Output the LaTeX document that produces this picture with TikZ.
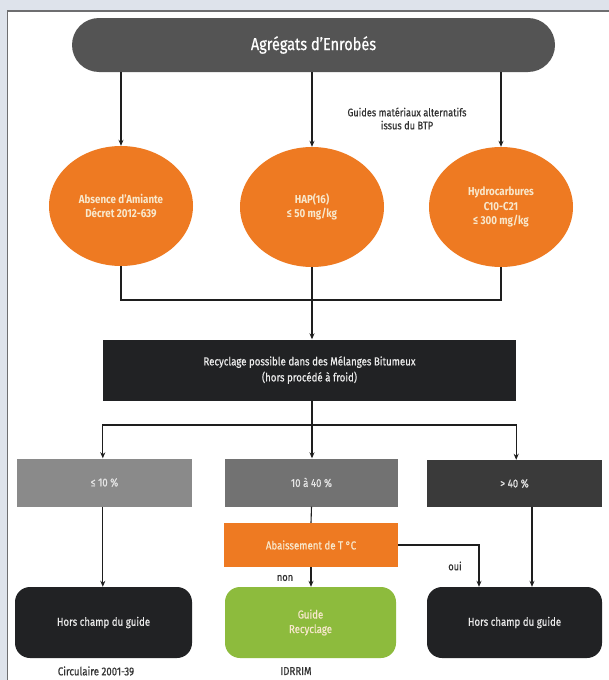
\documentclass[tikz,border=0pt]{standalone}
\usepackage{fontspec}
\setmainfont[FakeStretch=0.85]{Fira Sans}
\newfontfamily\medf[FakeStretch=0.84,FakeBold=0.6]{Fira Sans}
\usetikzlibrary{shapes.geometric,arrows.meta}
\definecolor{bgc}{HTML}{DEE3EB}
\definecolor{frame}{HTML}{6E6E70}
\definecolor{pillc}{HTML}{545454}
\definecolor{orng}{HTML}{EE7A22}
\definecolor{blk}{HTML}{212224}
\definecolor{g1}{HTML}{8A8A8A}
\definecolor{g2}{HTML}{727272}
\definecolor{g3}{HTML}{3A3A3A}
\definecolor{grn}{HTML}{8DBB3D}
\definecolor{cream}{HTML}{F8E8CC}
\definecolor{ln}{HTML}{1E1E1E}
\definecolor{txt}{HTML}{333333}
\tikzset{
  base/.style={inner sep=0pt, align=center, font=\medf\fontsize{11.5}{14.5}\selectfont},
  pill/.style={base, fill=pillc, rounded corners=27pt, minimum width=483pt, minimum height=54pt, text=white, font=\medf\fontsize{17.3}{19}\selectfont},
  oval/.style={base, ellipse, fill=orng, minimum width=144pt, minimum height=120pt, text=cream, font=\fontsize{11.5}{14.5}\selectfont\bfseries},
  sqbox/.style={base, minimum height=48pt, text=white!90!black},
  rbox/.style={base, rounded corners=15pt, minimum height=71pt, text=white!92!black},
  lbl/.style={base, text=txt, font=\medf\fontsize{11}{13}\selectfont},
  arr/.style={draw=ln, line width=1.1pt, -{Stealth[length=6pt,width=5pt]}},
  con/.style={draw=ln, line width=1.1pt},
}
\begin{document}
\begin{tikzpicture}[x=1pt,y=-1pt]
\useasboundingbox (0,0) rectangle (609,680);
\fill[bgc] (0,0) rectangle (609,680);
\filldraw[fill=white, draw=frame, line width=1.5pt] (7.5,11) rectangle (640,700);

\node[pill] (top) at (313.5,45) {Agrégats d’Enrobés};
\node[lbl] (guides) at (407,118.5) {Guides matériaux alternatifs\\issus du BTP};

\node[oval] (c1) at (121,206) {Absence d’Amiante\\Décret 2012-639};
\node[oval] (c2) at (312,207) {HAP(16)\\≤ 50 mg/kg};
\node[oval] (c3) at (501,207) {Hydrocarbures\\C10-C21\\≤ 300 mg/kg};

\node[base, fill=blk, minimum width=413pt, minimum height=61pt, text=white!92!black, font=\medf\fontsize{11.5}{16}\selectfont] (rec) at (309.5,370) {Recyclage possible dans des Mélanges Bitumeux\\(hors procédé à froid)};

\node[sqbox, fill=g1, minimum width=175pt] (b1) at (104.5,482.5) {≤ 10 \%};
\node[sqbox, fill=g2, minimum width=173pt] (b2) at (311.5,482.5) {10 à 40 \%};
\node[sqbox, fill=g3, minimum width=175pt, minimum height=47pt] (b3) at (514.5,483.5) {> 40 \%};

\node[base, fill=orng, minimum width=174pt, minimum height=44pt, text=cream] (or) at (311,545) {Abaissement de T °C};

\node[rbox, fill=blk, minimum width=177pt] (h1) at (103.5,622.5) {Hors champ du guide};
\node[rbox, fill=grn, minimum width=171pt, text=cream] (gr) at (310.5,622.5) {Guide\\Recyclage};
\node[rbox, fill=blk, minimum width=175pt] (h2) at (514.5,622.5) {Hors champ du guide};

\node[lbl, font=\medf\fontsize{11.5}{13}\selectfont] (circ) at (96,671) {Circulaire 2001-39};
\node[lbl, font=\medf\fontsize{11.5}{13}\selectfont] (idr) at (296,671) {IDRRIM};
\node[lbl] (non) at (285,578) {non};
\node[lbl] (oui) at (455,566) {oui};

% top to circles
\draw[arr] (c1.north |- top.south) -- (c1.north);
\draw[arr] (c2.north |- top.south) -- (c2.north);
\draw[arr] (c3.north |- top.south) -- (c3.north);

% circles to recycling box
\coordinate (j) at (312,300);
\draw[con] (c1.south) |- (j) -| (c3.south);
\draw[arr] (c2.south) -- (c2.south |- rec.north);

% recycling box to the three ranges
\coordinate (k) at (312,425);
\draw[con] (k |- rec.south) -- (k);
\draw[arr] (k) -| (rec.south west |- b1.north);
\draw[arr] (k) -| (rec.south east |- b3.north);
\draw[arr] (k) -- (k |- b2.north);

% lower part
\draw[arr] (rec.south west |- b1.south) -- (rec.south west |- h1.north);
\draw[con] (b2.south) -- (or.north);
\draw[arr] (or.south) -- (or.south |- gr.north);
\coordinate (ox) at (479,545);
\draw[arr] (or.east) -- (ox) -- (ox |- h2.north);
\coordinate (rx) at (532,507);
\draw[arr] (rx |- b3.south) -- (rx |- h2.north);
\end{tikzpicture}
\end{document}
